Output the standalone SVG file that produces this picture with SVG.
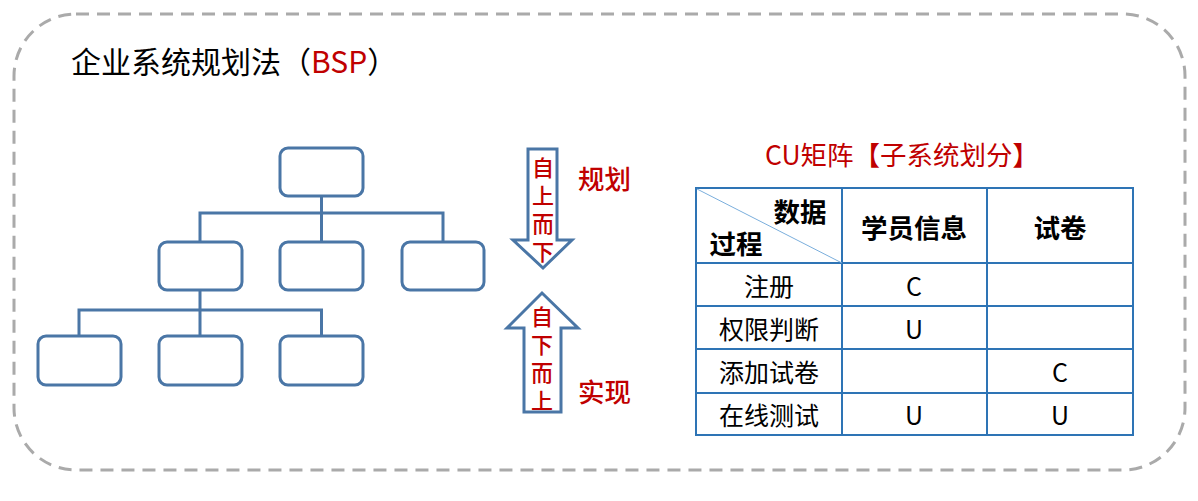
<svg xmlns="http://www.w3.org/2000/svg" width="1198" height="501" viewBox="0 0 1198 501">
<style>
.cjk{font-family:"Noto Sans CJK SC","Noto Sans",sans-serif}
.box{fill:#fff;stroke:#4a76a6;stroke-width:3}
.con{fill:none;stroke:#4a76a6;stroke-width:3}
.red{fill:#c00000}
.tb{fill:none;stroke:#2e74b5;stroke-width:2}
.tt{font-size:25px;fill:#000;text-anchor:middle}
.th{font-size:26.5px;font-weight:bold;fill:#000;text-anchor:middle}
.vt{font-size:22px;writing-mode:vertical-rl;letter-spacing:6px;font-weight:500}
</style>
<rect width="1198" height="501" fill="#fff"/>
<rect id="frame" x="14" y="14" width="1171" height="456" rx="62" ry="62" fill="none" stroke="#aaaaaa" stroke-width="3" stroke-dasharray="13 8"/>
<text id="title" class="cjk" x="71" y="60" dominant-baseline="central" font-size="30" fill="#000">企业系统规划法（<tspan fill="#c00000">BSP</tspan>）</text>
<g id="connectors">
<path class="con" d="M321.5 196V242M200 242V213H443V242"/>
<path class="con" d="M200 290V336M79 336V310H321.5V336"/>
</g>
<g id="n-top"><rect class="box" x="280" y="148" width="83" height="48" rx="8"/></g>
<g id="n-m1"><rect class="box" x="159" y="242" width="83" height="48" rx="8"/></g>
<g id="n-m2"><rect class="box" x="280" y="242" width="83" height="48" rx="8"/></g>
<g id="n-m3"><rect class="box" x="402" y="242" width="82" height="48" rx="8"/></g>
<g id="n-b1"><rect class="box" x="38" y="336" width="83" height="49" rx="8"/></g>
<g id="n-b2"><rect class="box" x="159" y="336" width="83" height="49" rx="8"/></g>
<g id="n-b3"><rect class="box" x="280" y="336" width="83" height="49" rx="8"/></g>
<g id="arrow-down">
<path d="M528 149H557V240H572L543 268L513 240H528Z" fill="#fff" stroke="#4a76a6" stroke-width="3"/>
<text class="cjk red vt" x="543" y="157">自上而下</text>
</g>
<g id="arrow-up">
<path d="M524 412V328H507L542 293L578 328H561V412Z" fill="#fff" stroke="#4a76a6" stroke-width="3"/>
<text class="cjk red vt" x="542" y="306">自下而上</text>
</g>
<text id="lbl-plan" class="cjk red" x="578" y="177" font-size="26.5" font-weight="500" dominant-baseline="central">规划</text>
<text id="lbl-impl" class="cjk red" x="578" y="390" font-size="26.5" font-weight="500" dominant-baseline="central">实现</text>
<text id="cu-title" class="cjk red" x="765" y="153" font-size="26.5" dominant-baseline="central">CU矩阵【子系统划分】</text>
<g id="cu-table">
<rect x="696" y="188" width="437" height="247" fill="#fff" stroke="#2e74b5" stroke-width="2"/>
<path class="tb" d="M842 188V435M987 188V435M696 263H1133M696 306H1133M696 349H1133M696 393H1133"/>
<path d="M697 189L842 263" stroke="#7aaedc" stroke-width="1"/>
<g class="cjk" dominant-baseline="central">
<text class="th" x="800" y="210">数据</text>
<text class="th" x="736" y="242">过程</text>
<text class="th" x="914" y="226">学员信息</text>
<text class="th" x="1060" y="226">试卷</text>
<text class="tt" x="769" y="285">注册</text>
<text class="tt" x="769" y="328">权限判断</text>
<text class="tt" x="769" y="371">添加试卷</text>
<text class="tt" x="769" y="414">在线测试</text>
<text class="tt" x="914" y="285">C</text>
<text class="tt" x="914" y="328">U</text>
<text class="tt" x="1060" y="371">C</text>
<text class="tt" x="914" y="414">U</text>
<text class="tt" x="1060" y="414">U</text>
</g>
</g>
</svg>
